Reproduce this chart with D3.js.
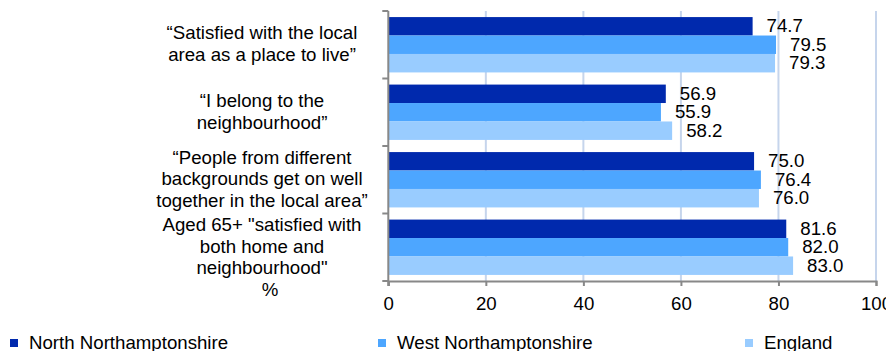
<!DOCTYPE html>
<html>
<head>
<meta charset="utf-8">
<script src="https://cdn.jsdelivr.net/npm/d3@7/dist/d3.min.js"></script>
<style>
  html, body { margin: 0; padding: 0; background: #fff; }
  svg { display: block; font-family: "Liberation Sans", Arial, sans-serif; }
</style>
</head>
<body>
<svg id="chart" width="886" height="351"></svg>
<script>
const categories = [
  "\u201CSatisfied with the local\narea as a place to live\u201D",
  "\u201CI belong to the\nneighbourhood\u201D",
  "\u201CPeople from different\nbackgrounds get on well\ntogether in the local area\u201D",
  "Aged 65+ \"satisfied with\nboth home and\nneighbourhood\""
];
const seriesNames = ["North Northamptonshire", "West Northamptonshire", "England"];
const northValues = [74.7, 56.9, 75.0, 81.6];
const westValues = [79.5, 55.9, 76.4, 82.0];
const englandValues = [79.3, 58.2, 76.0, 83.0];
const xTicks = [0, 20, 40, 60, 80, 100];
const axisTitle = "%";

const colors = ["#0029ad", "#4da6ff", "#99ccff"];
const seriesValues = [northValues, westValues, englandValues];

const svg = d3.select("#chart");
const plotLeft = 388.3, plotRight = 876, plotTop = 11, plotBottom = 281;
const fontSize = 18.67;

const x = d3.scaleLinear().domain([0, 100]).range([plotLeft, plotRight]);
const y = d3.scaleBand().domain(categories).range([plotTop, plotBottom]).paddingInner(0.18).paddingOuter(0.09);
const ySub = d3.scaleBand().domain([0, 1, 2]).range([0, y.bandwidth()]);

// gridlines
svg.append("g").selectAll("line").data(xTicks.filter(d => d > 0)).join("line")
  .attr("x1", d => x(d)).attr("x2", d => x(d))
  .attr("y1", plotTop).attr("y2", plotBottom)
  .attr("stroke", "#c6d5ec").attr("stroke-width", 2);

// bars
const groups = svg.append("g").selectAll("g").data(categories).join("g")
  .attr("transform", c => `translate(0,${y(c)})`);

groups.each(function(c, ci) {
  const g = d3.select(this);
  seriesValues.forEach((vals, si) => {
    g.append("rect")
      .attr("x", x(0))
      .attr("y", ySub(si))
      .attr("width", x(vals[ci]) - x(0))
      .attr("height", ySub.bandwidth())
      .attr("fill", colors[si]);
    g.append("text")
      .attr("x", x(vals[ci]) + 14)
      .attr("y", ySub(si) + ySub.bandwidth() / 2)
      .attr("dy", "0.33em")
      .attr("font-size", fontSize)
      .attr("fill", "#000")
      .text(vals[ci].toFixed(1));
  });
});

// x axis
const xAxis = d3.axisBottom(x).tickValues(xTicks).tickSize(5).tickPadding(11).tickFormat(d3.format("d"));
const gx = svg.append("g").attr("transform", `translate(0,${plotBottom})`).call(xAxis);
gx.select(".domain").attr("stroke", "#888").attr("stroke-width", 2);
gx.selectAll(".tick line").attr("stroke", "#888").attr("stroke-width", 2);
gx.selectAll(".tick text").attr("font-size", fontSize).attr("fill", "#000")
  .attr("font-family", "Liberation Sans, Arial, sans-serif");

// y axis (line with ticks at band boundaries)
const bounds = d3.range(categories.length + 1).map(i => plotTop + i * y.step());
svg.append("line").attr("x1", plotLeft).attr("x2", plotLeft).attr("y1", plotTop).attr("y2", plotBottom + 5)
  .attr("stroke", "#888").attr("stroke-width", 2);
svg.append("g").selectAll("line").data(bounds).join("line")
  .attr("x1", plotLeft - 6).attr("x2", plotLeft).attr("y1", d => d).attr("y2", d => d)
  .attr("stroke", "#888").attr("stroke-width", 2);

// category labels
const lineH = 21.7;
svg.append("g").selectAll("text").data(categories).join("text")
  .attr("text-anchor", "middle")
  .attr("font-size", fontSize)
  .attr("fill", "#000")
  .each(function(c) {
    const lines = c.split("\n");
    const cy = y(c) + y.bandwidth() / 2 - 1;
    const t = d3.select(this);
    lines.forEach((ln, i) => {
      t.append("tspan")
        .attr("x", 262)
        .attr("y", cy + (i - (lines.length - 1) / 2) * lineH)
        .attr("dy", "0.35em")
        .text(ln);
    });
  });

// axis title
svg.append("text").attr("x", 270).attr("y", 296).attr("text-anchor", "middle")
  .attr("font-size", fontSize).attr("fill", "#000").text(axisTitle);

// legend
const legendX = [10, 378, 745];
const legend = svg.append("g").selectAll("g").data(seriesNames).join("g")
  .attr("transform", (d, i) => `translate(${legendX[i]},0)`);
legend.append("rect").attr("x", 0).attr("y", 339).attr("width", 8).attr("height", 8)
  .attr("fill", (d, i) => colors[i]);
legend.append("text").attr("x", 19).attr("y", 349).attr("font-size", fontSize)
  .attr("fill", "#000").text(d => d);
</script>
</body>
</html>
